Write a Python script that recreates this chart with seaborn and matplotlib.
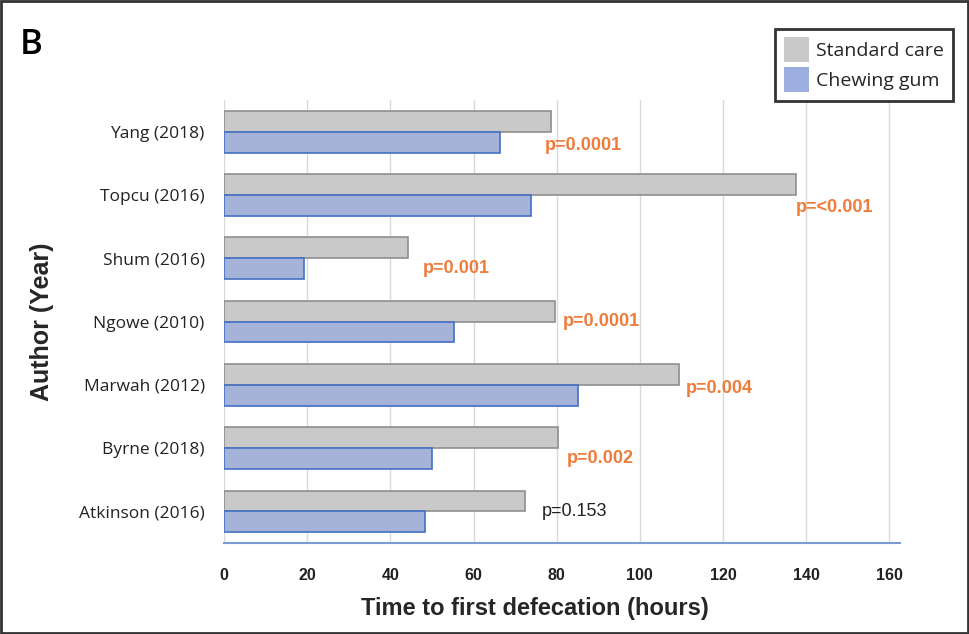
import matplotlib.pyplot as plt
import matplotlib.patches as mpatches
import seaborn as sns
import pandas as pd

# values
authors = ['Yang (2018)', 'Topcu (2016)', 'Shum (2016)', 'Ngowe (2010)',
           'Marwah (2012)', 'Byrne (2018)', 'Atkinson (2016)']
standard_care = [78.6, 137.6, 44.3, 79.5, 109.3, 80.4, 72.3]
chewing_gum = [66.4, 73.7, 19.3, 55.4, 85.2, 50.1, 48.3]
p_values = ['p=0.0001', 'p=<0.001', 'p=0.001', 'p=0.0001', 'p=0.004', 'p=0.002', 'p=0.153']
significant = [True, True, True, True, True, True, False]
x_ticks = [0, 20, 40, 60, 80, 100, 120, 140, 160]

# long format for seaborn
df = pd.DataFrame({
    'Author': authors * 2,
    'Hours': standard_care + chewing_gum,
    'Group': ['Standard care'] * len(authors) + ['Chewing gum'] * len(authors),
})

sns.set_style('white')
plt.rcParams['font.family'] = ['Liberation Sans', 'DejaVu Sans']

fig = plt.figure(figsize=(9.7, 6.34), dpi=100)
ax = fig.add_axes([0.231, 0.1435, 0.697, 0.6985])

colors = {'Standard care': '#c9c9c9', 'Chewing gum': '#9cafe0'}
edges = {'Standard care': '#8f8f8f', 'Chewing gum': '#4470c4'}
sns.barplot(data=df, y='Author', x='Hours', hue='Group', order=authors,
            hue_order=['Standard care', 'Chewing gum'], palette=colors,
            width=0.66, orient='h', legend=False, ax=ax)

# edge colours per group
n = len(authors)
for i, bar in enumerate(ax.patches[:2 * n]):
    grp = 'Standard care' if i < n else 'Chewing gum'
    bar.set_edgecolor(edges[grp])
    bar.set_linewidth(1.2)

ax.set_xlim(0, 162.6)
ax.set_ylim(6.5, -0.5)
ax.set_xticks(x_ticks)
ax.set_xticklabels([str(t) for t in x_ticks], fontsize=11.5, fontweight='bold', color='#222222')
ax.tick_params(axis='x', length=0, pad=18)
ax.tick_params(axis='y', length=0, pad=14)
for lbl in ax.get_yticklabels():
    lbl.set_color('#222222')
    lbl.set_fontsize(12.5)
    lbl.set_family(['Open Sans', 'DejaVu Sans'])
ax.xaxis.grid(True, color='#d9d9d9', linewidth=1)
ax.set_axisbelow(True)
for s in ['top', 'right', 'left']:
    ax.spines[s].set_visible(False)
ax.spines['bottom'].set_color('#7f9bd6')
ax.spines['bottom'].set_linewidth(1.5)

ax.set_xlabel('Time to first defecation (hours)', fontsize=17, fontweight='bold')
ax.xaxis.set_label_coords(0.46, -0.122)
ax.set_ylabel('Author (Year)', fontsize=18, fontweight='bold', labelpad=18)

# p-value annotations next to the standard care bars
label_dx = [-1.5, -0.2, 3.4, 2.0, 1.8, 2.0, 4.0]
label_dy = [0.22, 0.19, 0.16, 0.0, 0.05, 0.16, 0.0]
for i, (val, p, sig) in enumerate(zip(standard_care, p_values, significant)):
    style = dict(color='#f07c3c', fontweight='bold') if sig else dict(color='#222222')
    ax.text(val + label_dx[i], i + label_dy[i], p, fontsize=13,
            ha='left', va='center', **style)

# legend
handles = [mpatches.Patch(facecolor=colors['Standard care'], edgecolor='none', label='Standard care'),
           mpatches.Patch(facecolor=colors['Chewing gum'], edgecolor='none', label='Chewing gum')]
leg = fig.legend(handles=handles, loc='upper right', bbox_to_anchor=(0.992, 0.97),
                 frameon=True, fancybox=False, handlelength=1.3,
                 handleheight=1.6, handletextpad=0.35, borderpad=0.45, labelspacing=0.25,
                 prop={'family': ['Open Sans', 'DejaVu Sans'], 'size': 14})
leg.get_frame().set_edgecolor('black')
leg.get_frame().set_linewidth(2)

# panel letter
fig.text(0.02, 0.915, 'B', fontsize=25, color='black', fontweight='semibold',
         family=['Open Sans', 'DejaVu Sans'])

# figure border
fig.patches.append(mpatches.Rectangle((0.001, 0.002), 0.997, 0.996, transform=fig.transFigure,
                                      fill=False, edgecolor='#333333', linewidth=2))

fig.savefig('out.png', dpi=100)
